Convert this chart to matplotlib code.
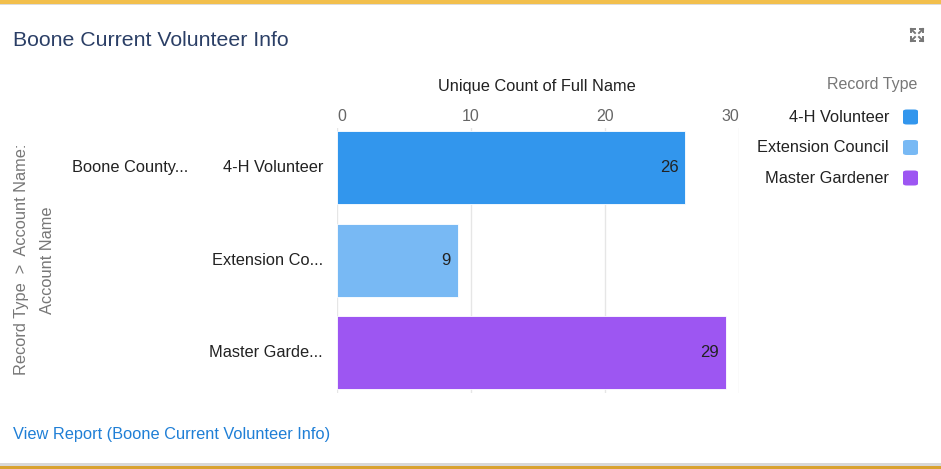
import matplotlib
matplotlib.use('Agg')
import matplotlib.pyplot as plt
from matplotlib.patches import FancyBboxPatch, Rectangle

plt.rcParams['font.family'] = ['Liberation Sans', 'DejaVu Sans']

# data
record_types = ['4-H Volunteer', 'Extension Council', 'Master Gardener']
short_labels = ['4-H Volunteer', 'Extension Co...', 'Master Garde...']
account_label = 'Boone County...'
counts = [26, 9, 29]
colors = ['#3296ed', '#78b9f4', '#9d56f2']
xticks = [0, 10, 20, 30]

W, H = 941, 469
fig = plt.figure(figsize=(W / 100, H / 100), dpi=100)

def fx(px):
    return px / W

def fy(py):
    return 1 - py / H

FS = 11.8

# panel borders
fig.patches.append(Rectangle((0, fy(4)), 1, 4 / H, transform=fig.transFigure,
                             color='#f2bf4c', lw=0))
fig.patches.append(Rectangle((0, fy(5)), 1, 1 / H, transform=fig.transFigure,
                             color='#dcdcdc', lw=0))
fig.patches.append(Rectangle((0, 0), 1, 3 / H, transform=fig.transFigure,
                             color='#d9a22f', lw=0))
fig.patches.append(Rectangle((0, 3 / H), 1, 3 / H, transform=fig.transFigure,
                             color='#d8d8d8', lw=0))

ax = fig.add_axes([fx(337), fy(393), fx(739) - fx(337), fy(128) - fy(393)])
y = list(range(len(counts)))
ax.barh(y, counts, height=0.79, color=colors, edgecolor='white', linewidth=0.6, zorder=3)
ax.set_xlim(0, 30)
ax.set_ylim(2.44, -0.43)
ax.set_xticks(xticks)
ax.xaxis.tick_top()
ax.tick_params(axis='x', length=0, pad=3, labelsize=11.5, labelcolor='#666666')
lbls = ax.get_xticklabels()
lbls[0].set_ha('left')
lbls[-1].set_ha('right')
ax.set_yticks([])
for s in ax.spines.values():
    s.set_visible(False)
ax.grid(axis='x', color='#e6e6e6', lw=1, zorder=0)

for i, v in enumerate(counts):
    ax.annotate(str(v), (v, i), xytext=(-5, 0), textcoords='offset points',
                ha='right', va='center', fontsize=12, color='#222222', zorder=4)
    ax.annotate(short_labels[i], (0, i), xytext=(-10, 0), textcoords='offset points',
                ha='right', va='center', fontsize=FS, color='#222222')

ax.annotate(account_label, (0, 0), xytext=(-107, 0), textcoords='offset points',
            ha='right', va='center', fontsize=FS, color='#222222')

fig.text(fx(537), fy(87), 'Unique Count of Full Name', ha='center', va='center',
         fontsize=FS, color='#222222')

# y axis title
fig.text(fx(22), fy(259), 'Record Type  >  Account Name:', rotation=90,
         ha='center', va='center', fontsize=FS, color='#777777')
fig.text(fx(48), fy(260), 'Account Name', rotation=90,
         ha='center', va='center', fontsize=FS, color='#777777')

# title and link
fig.text(fx(13), fy(40), 'Boone Current Volunteer Info', ha='left', va='center',
         fontsize=15.3, color='#2b3f66')
fig.text(fx(13), fy(434), 'View Report (Boone Current Volunteer Info)', ha='left',
         va='center', fontsize=FS, color='#1f7fd6')

# legend
fig.text(fx(917), fy(84), 'Record Type', ha='right', va='center',
         fontsize=11.5, color='#777777')
for i, (name, c) in enumerate(zip(record_types, colors)):
    yy = 117 + i * 30.5
    fig.text(fx(889), fy(yy), name, ha='right', va='center', fontsize=FS, color='#222222')
    box = FancyBboxPatch((fx(903), fy(yy + 7.5)), fx(15), 15 / H,
                         boxstyle='round,pad=0,rounding_size=0.004',
                         transform=fig.transFigure, color=c, lw=0)
    fig.patches.append(box)

# expand icon
cx, cy = 917, 35
for dx, dy in [(-1, -1), (1, -1), (-1, 1), (1, 1)]:
    x0, y0 = cx + dx * 6, cy + dy * 6
    x1, y1 = cx + dx * 2, cy + dy * 2
    kw = dict(transform=fig.transFigure, color='#777777', lw=1.4)
    fig.lines.append(plt.Line2D([fx(x0), fx(x1)], [fy(y0), fy(y1)], **kw))
    fig.lines.append(plt.Line2D([fx(x0), fx(x0)], [fy(y0), fy(y0 - dy * 3.5)], **kw))
    fig.lines.append(plt.Line2D([fx(x0), fx(x0 - dx * 3.5)], [fy(y0), fy(y0)], **kw))

fig.savefig('out.png', dpi=100)
